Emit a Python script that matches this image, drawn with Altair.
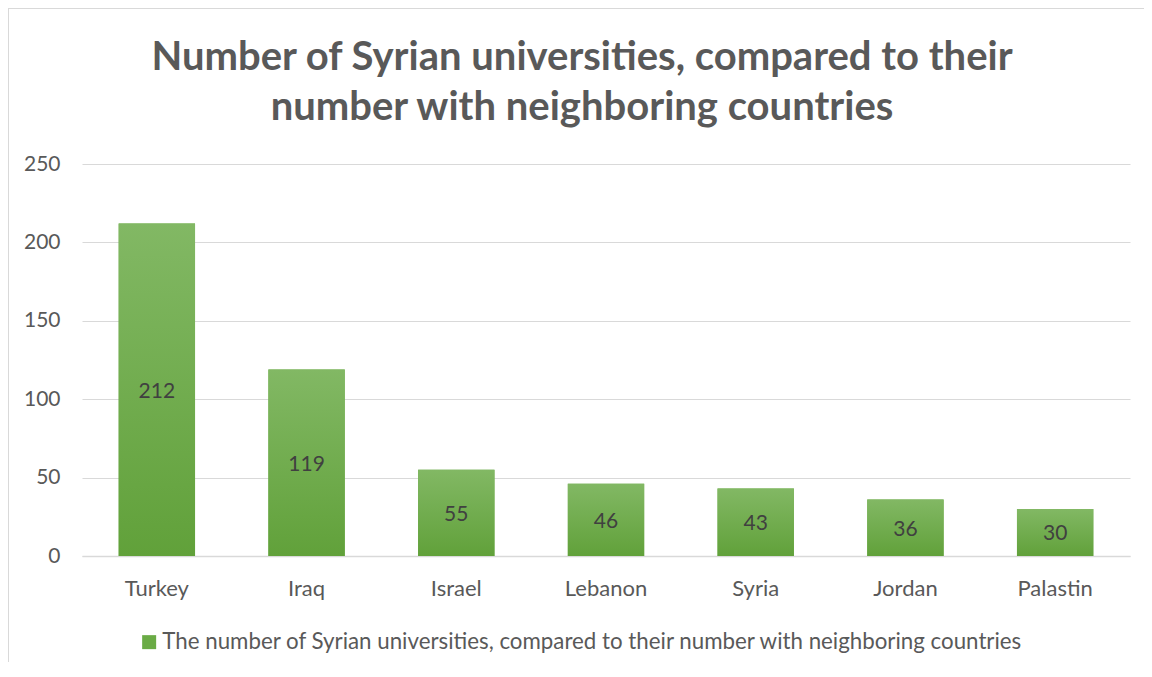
import altair as alt
import pandas as pd

countries = ["Turkey", "Iraq", "Israel", "Lebanon", "Syria", "Jordan", "Palastin"]
values = [212, 119, 55, 46, 43, 36, 30]
series_name = "The number of Syrian universities, compared to their number with neighboring countries"
y_ticks = [0, 50, 100, 150, 200, 250]

df = pd.DataFrame({"country": countries, "value": values, "series": series_name})

FONT = "Lato"
GREY = "#595959"
W, H = 1048, 392
PAD_L, PAD_T, PAD_R, PAD_B = 74, 156, 14, 106

x_enc = alt.X("country:N", sort=countries, title=None,
              scale=alt.Scale(paddingInner=0.49, paddingOuter=0.245),
              axis=alt.Axis(labelAngle=0, labelFont=FONT, labelFontSize=22, labelColor=GREY,
                            labelPadding=22, ticks=False, domainColor="#d9d9d9", domainWidth=1.5))
y_enc = alt.Y("value:Q", title=None,
              scale=alt.Scale(domain=[0, 250], nice=False),
              axis=alt.Axis(values=y_ticks, labelFont=FONT, labelFontSize=21, labelColor=GREY,
                            labelPadding=22, ticks=False, domain=False,
                            gridColor="#d9d9d9", gridWidth=1))

base = alt.Chart(df)

legend_bars = base.mark_bar().encode(
    x=x_enc, y=y_enc,
    color=alt.Color("series:N", title=None,
                    scale=alt.Scale(range=["#6aab45"]),
                    legend=alt.Legend(orient="none", legendX=56, legendY=467,
                                      labelFont=FONT, labelFontSize=22.3, labelColor=GREY,
                                      labelLimit=1200, symbolType="square", symbolSize=196,
                                      symbolStrokeWidth=0, labelOffset=2)),
)

grad = alt.LinearGradient(
    gradient="linear", x1=0, y1=0, x2=0, y2=1,
    stops=[alt.GradientStop(color="#82b864", offset=0),
           alt.GradientStop(color="#61a13a", offset=1)],
)
grad_bars = base.mark_bar(color=grad).encode(x=x_enc, y=y_enc)

labels = base.transform_calculate(mid="datum.value / 2").mark_text(
    font=FONT, fontSize=21, color="#404040", baseline="middle", dy=2
).encode(x=alt.X("country:N", sort=countries), y=alt.Y("mid:Q"), text="value:Q")

border_left = base.mark_rule(color="#d9d9d9", strokeWidth=1.5).encode(
    x=alt.value(-PAD_L), y=alt.value(-PAD_T), y2=alt.value(H + PAD_B))
border_top = base.mark_rule(color="#d9d9d9", strokeWidth=1.5).encode(
    x=alt.value(-PAD_L), x2=alt.value(W + PAD_R), y=alt.value(-PAD_T))

chart = alt.layer(legend_bars, grad_bars, labels, border_left, border_top).properties(
    width=W, height=H,
    autosize=alt.AutoSizeParams(type="none"),
    padding={"left": PAD_L, "top": PAD_T, "right": PAD_R, "bottom": PAD_B},
    title=alt.TitleParams(
        text=["Number of Syrian universities, compared to their",
              "number with neighboring countries"],
        font=FONT, fontSize=40, fontWeight="bold", color=GREY,
        anchor="middle", dx=-24, offset=-121, lineHeight=50,
    ),
).configure_view(stroke=None)

chart.save("out.html", embed_options={"renderer": "svg", "actions": False})
